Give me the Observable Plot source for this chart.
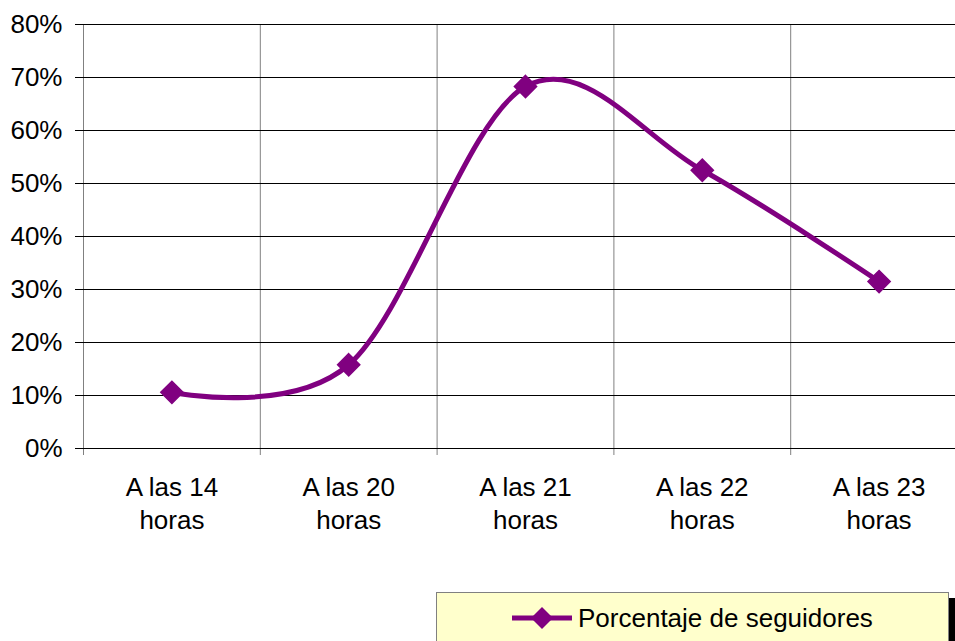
<!DOCTYPE html>
<html>
<head>
<meta charset="utf-8">
<script src="https://cdn.jsdelivr.net/npm/d3@7"></script>
<script src="https://cdn.jsdelivr.net/npm/@observablehq/plot@0.6"></script>
<style>
  body { margin: 0; background: #fff; font-family: "Liberation Sans", Arial, sans-serif; }
  #wrap { position: relative; width: 955px; height: 641px; overflow: hidden; }
  #legend { position: absolute; left: 436px; top: 592px; width: 511px; height: 60px;
    background: #FFFFCC; border: 1px solid #808080; box-shadow: 7px 6px 0 #000;
    font-size: 26px; color: #000; }
  #legend svg { position: absolute; left: 75px; top: 10px; }
  #legend span { position: absolute; left: 141px; top: 10px; line-height: 30px; }
</style>
</head>
<body>
<div id="wrap"></div>
<script>
const categories = ["A las 14\nhoras", "A las 20\nhoras", "A las 21\nhoras", "A las 22\nhoras", "A las 23\nhoras"];
const values = [10.6, 15.8, 68.3, 52.5, 31.5];
const yTicks = [0, 10, 20, 30, 40, 50, 60, 70, 80];
const seriesName = "Porcentaje de seguidores";

const data = categories.map((c, i) => ({i, c, v: values[i]}));
const bounds = d3.range(categories.length + 1).map(k => k - 0.5);
const purple = "#800080";

const chart = Plot.plot({
  width: 955,
  height: 592,
  marginLeft: 75,
  marginRight: 0,
  marginTop: 24,
  marginBottom: 144,
  style: {fontFamily: "Liberation Sans, Arial, sans-serif", fontSize: "26px", color: "#000", background: "transparent"},
  x: {type: "linear", domain: [-0.5, 4.5], range: [83, 967], axis: null},
  y: {domain: [0, 80], range: [448, 24], axis: null, label: null},
  marks: [
    Plot.ruleX(bounds, {x: d => d, y1: 80, y2: 0, stroke: "#808080", strokeWidth: 1, insetBottom: -7}),
    Plot.ruleY(yTicks, {y: d => d, stroke: "#000", strokeWidth: 1}),
    Plot.axisY(yTicks, {tickFormat: d => d + "%", tickSize: 0, tickPadding: 13, fontSize: 26, fill: "#000", label: null}),
    Plot.text(data, {x: "i", y: 0, text: "c", lineAnchor: "top", dy: 23, lineHeight: 1.3, fontSize: 26, fill: "#000"}),
    Plot.line(data, {x: "i", y: "v", curve: "cardinal", stroke: purple, strokeWidth: 5}),
    Plot.dot(data, {x: "i", y: "v", symbol: "diamond2", r: 10, fill: purple, stroke: purple})
  ]
});
document.getElementById("wrap").appendChild(chart);

const legend = document.createElement("div");
legend.id = "legend";
legend.innerHTML = `<svg width="62" height="30"><line x1="0" y1="15" x2="60" y2="15" stroke="${purple}" stroke-width="5"/><path d="M30,4 L41,15 L30,26 L19,15 Z" fill="${purple}"/></svg><span>${seriesName}</span>`;
document.getElementById("wrap").appendChild(legend);
</script>
</body>
</html>
